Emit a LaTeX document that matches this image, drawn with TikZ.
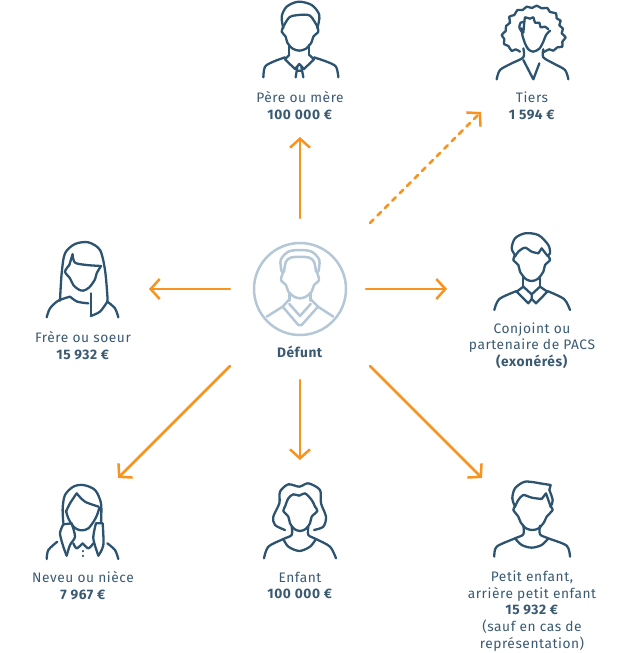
\documentclass[tikz,border=0pt]{standalone}
\usepackage{fontspec}
\setmainfont[LetterSpace=4]{Fira Sans}
\usetikzlibrary{arrows.meta}
\definecolor{ink}{HTML}{2C5470}
\definecolor{txt}{HTML}{3A5A72}
\definecolor{pale}{HTML}{B4C7D7}
\definecolor{flech}{HTML}{F7931E}
\begin{document}
\begin{tikzpicture}[x=1bp,y=-1bp,line cap=round,line join=round,>={Straight Barb[length=9bp,width=20bp]}]
	\tikzset{
		lab/.style={text=txt,align=center,font=\fontsize{13.8}{16.75}\selectfont},
		fig/.style={draw=ink,line width=2.3bp},
		pal/.style={draw=pale,line width=2.5bp},
		fl/.style={draw=flech,line width=2.5bp,->},
	}
	\useasboundingbox (0,0) rectangle (630,653);
	% arrows
	\coordinate (a1) at (300,218); \coordinate (b1) at (300,137);
	\coordinate (a2) at (370,223); \coordinate (b2) at (481,112);
	\coordinate (a3) at (366,289); \coordinate (b3) at (447,289);
	\coordinate (a4) at (230,289); \coordinate (b4) at (149,289);
	\coordinate (a5) at (300,380); \coordinate (b5) at (300,460);
	\coordinate (a6) at (230,366); \coordinate (b6) at (118,478);
	\coordinate (a7) at (370,366); \coordinate (b7) at (482,478);
	\draw[fl] (a1)--(b1);
	\draw[fl,dash pattern=on 5bp off 5.5bp] (a2)--(b2);
	\draw[fl] (a3)--(b3);
	\draw[fl] (a4)--(b4);
	\draw[fl] (a5)--(b5);
	\draw[fl] (a6)--(b6);
	\draw[fl] (a7)--(b7);
	% labels
	\node[lab] (pere) at (300,105.5) {Père ou mère\\\textbf{100 000 €}};
	\node[lab] (tiers) at (532,105.5) {Tiers\\\textbf{1 594 €}};
	\node[lab] (defunt) at (300,351.5) {\textbf{Défunt}};
	\node[lab] (frere) at (83,345.5) {Frère ou soeur\\\textbf{15 932 €}};
	\node[lab] (conjoint) at (532,345.5) {Conjoint ou\\partenaire de PACS\\\textbf{(exonérés)}};
	\node[lab] (neveu) at (83,585.5) {Neveu ou nièce\\\textbf{7 967 €}};
	\node[lab] (enfant) at (300,585.5) {Enfant\\\textbf{100 000 €}};
	\node[lab] (petit) at (532,611) {Petit enfant,\\arrière petit enfant\\\textbf{15 932 €}\\(sauf en cas de\\représentation)};
	% defunt
	\draw[pal] (300,289) circle (46);
	\begin{scope}[shift={(230,230)},scale=1/3]
		\draw[pal] plot[smooth] coordinates {(155,125)(152,90)(175,65)(210,60)(245,65)(268,90)(265,125)};
		\draw[pal] plot[smooth] coordinates {(162,125)(168,95)(185,82)(235,82)(252,95)(258,125)};
		\draw[pal] plot[smooth] coordinates {(160,125)(153,150)(168,165)(175,185)(192,200)(210,205)(228,200)(245,185)(252,165)(267,150)(260,125)};
		\draw[pal] (178,190)--(178,212) (242,190)--(242,212);
		\draw[pal] (178,208)--(158,230)--(205,285)--(215,285)--(264,230)--(242,208);
		\draw[pal] (178,222)--(210,258)--(242,222);
		\draw[pal] (110,260)--(158,230) (264,230)--(310,260);
	\end{scope}
	% pere
	\begin{scope}[shift={(230,0)},scale=1/3]
		\draw[fig] plot[smooth] coordinates {(160,85)(155,50)(170,20)(205,5)(245,15)(268,45)(262,85)};
		\draw[fig] plot[smooth] coordinates {(160,80)(178,52)(205,45)(240,47)(262,80)};
		\draw[fig] plot[smooth] coordinates {(160,80)(155,95)(167,110)(172,128)(188,146)(208,152)(228,146)(244,128)(250,110)(265,95)(262,80)};
		\draw[fig] (178,135)--(178,165) (238,135)--(238,165);
		\draw[fig] (178,165)--(165,178)--(195,207)--(208,192)--(222,207)--(252,178)--(238,165);
		\draw[fig] (202,200)--(197,232) (214,200)--(220,232) (203,212)--(214,212);
		\draw[fig] plot[smooth] coordinates {(100,232)(105,200)(130,185)(165,172)};
		\draw[fig] plot[smooth] coordinates {(325,232)(318,200)(290,185)(252,172)};
	\end{scope}
	% tiers
	\begin{scope}[shift={(470,0)},scale=1/3]
		\draw[fig] plot[smooth] coordinates {(150,155)(137,148)(125,153)(115,138)(102,132)(103,117)(95,105)(107,93)(108,78)(120,68)(118,50)(133,45)(142,30)(158,30)(170,20)(186,24)(200,17)(215,25)(232,24)(240,36)(258,40)(260,55)(272,62)(268,76)(279,86)(275,100)(287,112)(277,125)(277,140)(262,142)(250,152)(238,148)(222,156)};
		\draw[fig] plot[smooth] coordinates {(155,95)(148,82)(152,68)(163,65)(165,52)(180,56)(190,52)(195,68)(208,68)(212,82)(225,80)(235,88)};
		\draw[fig] (163,65)--(160,98);
		\draw[fig] plot[smooth] coordinates {(155,85)(157,105)(165,130)(175,148)(190,155)(208,146)(220,125)(228,105)(240,92)};
		\draw[fig] plot[smooth] coordinates {(80,238)(90,210)(125,190)(160,172)(160,145)};
		\draw[fig] plot[smooth] coordinates {(295,238)(285,210)(250,190)(220,172)(220,148)};
		\draw[fig] (160,180)--(190,238)--(208,190);
	\end{scope}
	% frere
	\begin{scope}[shift={(20,230)},scale=1/3]
		\draw[fig] plot[smooth] coordinates {(120,212)(125,130)(135,70)(165,42)(205,37)(240,60)(255,120)(262,195)(262,215)};
		\draw[fig] plot[smooth] coordinates {(262,215)(240,245)(212,258)};
		\draw[fig] (212,258)--(212,190);
		\draw[fig] (158,72)--(148,105);
		\draw[fig] plot[smooth] coordinates {(158,75)(165,98)(200,105)(243,108)};
		\draw[fig] plot[smooth] coordinates {(148,105)(135,125)(150,145)(160,165)(175,178)(190,182)(208,172)(225,148)(230,130)(243,108)};
		\draw[fig] plot[smooth] coordinates {(150,200)(172,215)(205,220)};
		\draw[fig] plot[smooth] coordinates {(80,262)(90,235)(115,212)(150,200)};
		\draw[fig] plot[smooth] coordinates {(295,262)(285,235)(262,215)};
	\end{scope}
	% conjoint
	\begin{scope}[shift={(460,225)},scale=1/3]
		\draw[fig] plot[smooth] coordinates {(165,90)(155,70)(165,40)(195,25)(235,30)(265,60)(270,85)(262,92)};
		\draw[fig] plot[smooth] coordinates {(165,95)(175,80)(195,68)(215,80)(235,85)};
		\draw[fig] (235,85)--(245,70)--(262,92);
		\draw[fig] plot[smooth] coordinates {(165,90)(160,105)(175,120)(180,140)(197,162)(215,168)(233,162)(250,140)(255,120)(270,105)(262,90)};
		\draw[fig] (190,155)--(190,185) (240,155)--(240,185);
		\draw[fig] (190,185)--(170,200)--(205,235)--(215,222)--(228,235)--(262,200)--(240,185);
		\draw[fig] (190,185)--(215,208)--(240,185) (215,208)--(215,222);
		\draw[fig] plot[smooth] coordinates {(103,255)(118,222)(170,198)};
		\draw[fig] plot[smooth] coordinates {(330,255)(312,222)(262,198)};
	\end{scope}
	% neveu
	\begin{scope}[shift={(20,475)},scale=1/3]
		\draw[fig] plot[smooth] coordinates {(130,145)(128,100)(135,60)(160,35)(190,30)(225,45)(243,85)(243,145)};
		\draw[fig] plot[smooth] coordinates {(138,110)(150,85)(170,55)};
		\draw[fig] plot[smooth] coordinates {(170,55)(195,80)(236,95)};
		\draw[fig] plot[smooth] coordinates {(138,108)(145,130)(158,152)(172,163)(188,166)(205,160)(222,138)(232,118)(238,98)};
		\draw[fig] plot[smooth] coordinates {(130,148)(120,175)(130,215)(140,242)};
		\draw[fig] plot[smooth] coordinates {(140,242)(150,210)(165,185)(155,145)};
		\draw[fig] (130,148)--(155,145) (228,145)--(248,145);
		\draw[fig] plot[smooth] coordinates {(228,145)(220,190)(235,242)};
		\draw[fig] plot[smooth] coordinates {(235,242)(250,210)(248,145)};
		\draw[fig] plot[smooth] coordinates {(160,205)(170,220)(188,205)};
		\draw[fig] plot[smooth] coordinates {(188,205)(205,220)(220,205)};
		\draw[fig] (188,228)--(188,229) (188,242)--(188,243);
		\draw[fig] plot[smooth] coordinates {(80,252)(85,225)(112,200)};
		\draw[fig] plot[smooth] coordinates {(295,252)(285,225)(262,205)};
	\end{scope}
	% enfant
	\begin{scope}[shift={(240,475)},scale=1/3]
		\draw[fig] plot[smooth] coordinates {(135,165)(105,150)(100,125)(118,85)(120,50)(145,28)(178,35)(205,25)(240,45)(243,85)(258,125)(250,155)(222,165)};
		\draw[fig] plot[smooth] coordinates {(135,95)(145,70)(160,58)(178,62)(195,55)(215,75)(225,95)};
		\draw[fig] plot[smooth] coordinates {(135,95)(130,108)(145,125)(150,145)(163,162)(180,168)(197,162)(210,145)(215,125)(232,108)(225,95)};
		\draw[fig] plot[smooth] coordinates {(72,250)(85,215)(130,192)(155,180)(155,155)};
		\draw[fig] plot[smooth] coordinates {(288,250)(270,215)(228,192)(205,180)(205,155)};
		\draw[fig] plot[smooth] coordinates {(130,192)(145,215)(178,228)(210,215)(228,192)};
	\end{scope}
	% petit enfant
	\begin{scope}[shift={(460,475)},scale=1/3]
		\draw[fig] plot[smooth] coordinates {(165,95)(157,70)(165,40)(195,20)(240,25)};
		\draw[fig] (240,25)--(272,30)--(268,45);
		\draw[fig] plot[smooth] coordinates {(268,45)(278,75)(272,95)};
		\draw[fig] plot[smooth] coordinates {(165,95)(175,75)(190,60)(215,68)(245,72)};
		\draw[fig] (245,72)--(258,55)--(272,95);
		\draw[fig] plot[smooth] coordinates {(165,95)(160,105)(175,125)(182,142)(198,160)(217,165)(236,160)(252,142)(260,125)(278,105)(272,95)};
		\draw[fig] plot[smooth] coordinates {(103,245)(110,215)(165,190)(190,178)(190,152)};
		\draw[fig] plot[smooth] coordinates {(330,245)(320,212)(265,190)(240,178)(240,152)};
		\draw[fig] plot[smooth] coordinates {(165,190)(185,210)(215,218)(245,210)(265,190)};
	\end{scope}
\end{tikzpicture}
\end{document}
